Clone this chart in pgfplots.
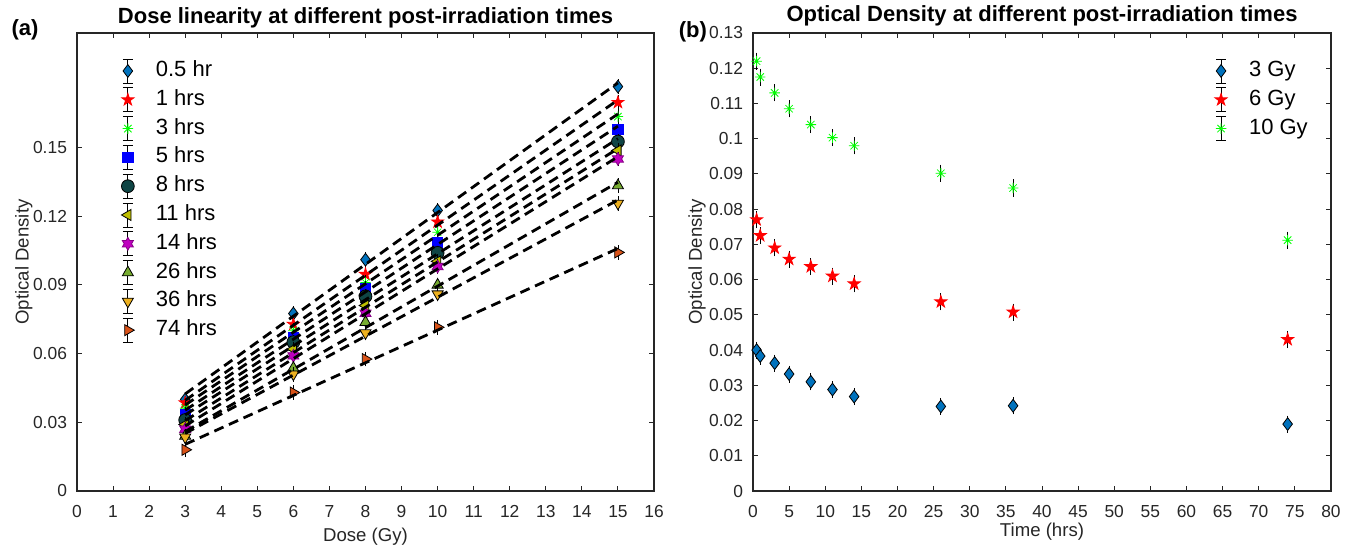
\documentclass[border=0pt]{standalone}
\usepackage{fontspec}
\setmainfont{Liberation Sans}
\usepackage{pgfplots}
\usepackage{pgfplotstable}
\pgfplotsset{compat=1.18}

% filled five- and six-pointed stars, MATLAB-style asterisk
\pgfdeclareplotmark{pent*}{%
  \pgfpathmoveto{\pgfqpointpolar{90}{\pgfplotmarksize}}%
  \pgfpathlineto{\pgfqpointpolar{126}{0.382\pgfplotmarksize}}%
  \pgfpathlineto{\pgfqpointpolar{162}{\pgfplotmarksize}}%
  \pgfpathlineto{\pgfqpointpolar{198}{0.382\pgfplotmarksize}}%
  \pgfpathlineto{\pgfqpointpolar{234}{\pgfplotmarksize}}%
  \pgfpathlineto{\pgfqpointpolar{270}{0.382\pgfplotmarksize}}%
  \pgfpathlineto{\pgfqpointpolar{306}{\pgfplotmarksize}}%
  \pgfpathlineto{\pgfqpointpolar{342}{0.382\pgfplotmarksize}}%
  \pgfpathlineto{\pgfqpointpolar{18}{\pgfplotmarksize}}%
  \pgfpathlineto{\pgfqpointpolar{54}{0.382\pgfplotmarksize}}%
  \pgfpathclose\pgfusepathqfillstroke}
\pgfdeclareplotmark{hexa*}{%
  \pgfpathmoveto{\pgfqpointpolar{90}{\pgfplotmarksize}}%
  \pgfpathlineto{\pgfqpointpolar{120}{0.577\pgfplotmarksize}}%
  \pgfpathlineto{\pgfqpointpolar{150}{\pgfplotmarksize}}%
  \pgfpathlineto{\pgfqpointpolar{180}{0.577\pgfplotmarksize}}%
  \pgfpathlineto{\pgfqpointpolar{210}{\pgfplotmarksize}}%
  \pgfpathlineto{\pgfqpointpolar{240}{0.577\pgfplotmarksize}}%
  \pgfpathlineto{\pgfqpointpolar{270}{\pgfplotmarksize}}%
  \pgfpathlineto{\pgfqpointpolar{300}{0.577\pgfplotmarksize}}%
  \pgfpathlineto{\pgfqpointpolar{330}{\pgfplotmarksize}}%
  \pgfpathlineto{\pgfqpointpolar{0}{0.577\pgfplotmarksize}}%
  \pgfpathlineto{\pgfqpointpolar{30}{\pgfplotmarksize}}%
  \pgfpathlineto{\pgfqpointpolar{60}{0.577\pgfplotmarksize}}%
  \pgfpathclose\pgfusepathqfillstroke}
\pgfdeclareplotmark{mstar}{%
  \pgfpathmoveto{\pgfqpointpolar{0}{\pgfplotmarksize}}\pgfpathlineto{\pgfqpointpolar{180}{\pgfplotmarksize}}%
  \pgfpathmoveto{\pgfqpointpolar{90}{\pgfplotmarksize}}\pgfpathlineto{\pgfqpointpolar{270}{\pgfplotmarksize}}%
  \pgfpathmoveto{\pgfqpointpolar{45}{\pgfplotmarksize}}\pgfpathlineto{\pgfqpointpolar{225}{\pgfplotmarksize}}%
  \pgfpathmoveto{\pgfqpointpolar{135}{\pgfplotmarksize}}\pgfpathlineto{\pgfqpointpolar{315}{\pgfplotmarksize}}%
  \pgfusepathqstroke}

\definecolor{mblue}{rgb}{0,0.447,0.741}
\definecolor{mteal}{rgb}{0.06,0.27,0.27}
\definecolor{molive}{rgb}{0.75,0.75,0}
\definecolor{mmag}{rgb}{0.75,0,0.75}
\definecolor{mgreen}{rgb}{0.466,0.674,0.188}
\definecolor{myellow}{rgb}{0.929,0.694,0.125}
\definecolor{morange}{rgb}{0.85,0.325,0.098}
\definecolor{axgray}{rgb}{0.15,0.15,0.15}

% optical density vs dose, one column per post-irradiation time
\pgfplotstableread{
dose t05    t1     t3     t5     t8     t11    t14    t26    t36    t74
3    0.0400 0.0385 0.0362 0.0335 0.0310 0.0290 0.0270 0.0240 0.0235 0.0180
6    0.0775 0.0728 0.0700 0.0670 0.0650 0.0620 0.0590 0.0537 0.0510 0.0430
8    0.1010 0.0946 0.0910 0.0885 0.0850 0.0810 0.0776 0.0737 0.0690 0.0576
10   0.1225 0.1175 0.1130 0.1085 0.1040 0.1003 0.0980 0.0900 0.0860 0.0715
15   0.1766 0.1697 0.1635 0.1580 0.1526 0.1487 0.1450 0.1334 0.1256 0.1042
}\dosedata

% optical density vs time for three doses
\pgfplotstableread{
t    g3     g6     g10
0.5  0.0400 0.0770 0.1220
1    0.0383 0.0725 0.1175
3    0.0363 0.0690 0.1130
5    0.0332 0.0658 0.1085
8    0.0310 0.0637 0.1040
11   0.0288 0.0610 0.1003
14   0.0268 0.0588 0.0980
26   0.0240 0.0537 0.0902
36   0.0242 0.0508 0.0860
74   0.0190 0.0430 0.0712
}\timedata

\newcommand{\fs}{\fontsize{8.7}{10}\selectfont}
\newcommand{\fl}{\fontsize{9.3}{11}\selectfont}
\newcommand{\ft}{\fontsize{11}{13}\selectfont}

\pgfplotsset{
  mat/.style={
    scale only axis, clip mode=individual,
    axis line style={axgray, line width=0.6pt},
    tick style={axgray, line width=0.5pt},
    tick align=inside, major tick length=2.5pt,
    xtick pos=both, ytick pos=both,
    /pgf/number format/assume math mode=true,
    tick label style={font=\fs, text=axgray},
    xticklabel style={yshift=-3.5pt},
    yticklabel style={xshift=-1.5pt},
    label style={font=\fl, text=axgray},
    every axis title shift=0pt,
    title style={font=\ft\bfseries, text=black, anchor=center},
    scaled ticks=false,
    legend style={draw=none, fill=none, font=\ft, text=black,
      row sep=1.9pt, nodes={inner sep=1pt, text height=8pt, text depth=2.5pt}},
    legend cell align=left,
  },
  eb/.style={error bars/y dir=both, error bars/y fixed=0.001,
    error bars/error bar style={black, line width=0.4pt},
    error bars/error mark options={black, mark size=2.5pt, line width=0.4pt}},
  pts/.style={only marks, mark size=3.2pt, line width=0.4pt,
    legend image code/.code={
      \path (0,0) (0.75cm,0);
      \draw[black, line width=0.4pt] (0.3cm,-6pt)--(0.3cm,6pt)
        (0.3cm-2.5pt,-6pt)--(0.3cm+2.5pt,-6pt)
        (0.3cm-2.5pt,6pt)--(0.3cm+2.5pt,6pt);
      \draw[##1] plot coordinates {(0.3cm,0cm)};}},
  fit/.style={black, line width=1.4pt, dash pattern=on 5pt off 3pt, forget plot},
}

\begin{document}
\begin{tikzpicture}
\path[use as bounding box] (-38.5pt,-28.5pt) rectangle (638.5pt,245.5pt);

\begin{axis}[mat,
  at={(0,0)}, anchor=south west,
  width=288.5pt, height=229pt,
  xmin=0, xmax=16, xtick={0,1,...,16},
  ymin=0, ymax=0.2, ytick={0,0.03,0.06,0.09,0.12,0.15},
  yticklabels={0,0.03,0.06,0.09,0.12,0.15},
  xlabel={Dose (Gy)}, ylabel={Optical Density},
  xlabel style={at={(axis description cs:0.5,-0.1)}, anchor=center},
  ylabel style={at={(axis description cs:-0.092,0.5)}, anchor=center},
  title={Dose linearity at different post-irradiation times},
  title style={at={(axis description cs:0.5,1.033)}},
  legend style={at={(axis description cs:0.0468,0.954)}, anchor=north west},
]
\addplot[pts, eb, mark=diamond*, mark options={fill=mblue, draw=black}] table[x=dose, y=t05] {\dosedata};
\addlegendentry{0.5 hr}
\addplot[pts, eb, mark=pent*, mark options={fill=red, draw=red}] table[x=dose, y=t1] {\dosedata};
\addlegendentry{1 hrs}
\addplot[pts, eb, mark=mstar, mark size=2.6pt, mark options={draw=green}] table[x=dose, y=t3] {\dosedata};
\addlegendentry{3 hrs}
\addplot[pts, eb, mark=square*, mark size=2.6pt, mark options={fill=blue, draw=blue}] table[x=dose, y=t5] {\dosedata};
\addlegendentry{5 hrs}
\addplot[pts, eb, mark=*, mark options={fill=mteal, draw=black}] table[x=dose, y=t8] {\dosedata};
\addlegendentry{8 hrs}
\addplot[pts, eb, mark=triangle*, mark options={fill=molive, draw=black, rotate=90}] table[x=dose, y=t11] {\dosedata};
\addlegendentry{11 hrs}
\addplot[pts, eb, mark=hexa*, mark options={fill=mmag, draw=mmag!70!black}] table[x=dose, y=t14] {\dosedata};
\addlegendentry{14 hrs}
\addplot[pts, eb, mark=triangle*, mark options={fill=mgreen, draw=black}] table[x=dose, y=t26] {\dosedata};
\addlegendentry{26 hrs}
\addplot[pts, eb, mark=triangle*, mark options={fill=myellow, draw=black, rotate=180}] table[x=dose, y=t36] {\dosedata};
\addlegendentry{36 hrs}
\addplot[pts, eb, mark=triangle*, mark options={fill=morange, draw=black, rotate=270}] table[x=dose, y=t74] {\dosedata};
\addlegendentry{74 hrs}

\addplot[fit] table[x=dose, y={create col/linear regression={y=t05}}] {\dosedata};
\addplot[fit] table[x=dose, y={create col/linear regression={y=t1}}] {\dosedata};
\addplot[fit] table[x=dose, y={create col/linear regression={y=t3}}] {\dosedata};
\addplot[fit] table[x=dose, y={create col/linear regression={y=t5}}] {\dosedata};
\addplot[fit] table[x=dose, y={create col/linear regression={y=t8}}] {\dosedata};
\addplot[fit] table[x=dose, y={create col/linear regression={y=t11}}] {\dosedata};
\addplot[fit] table[x=dose, y={create col/linear regression={y=t14}}] {\dosedata};
\addplot[fit] table[x=dose, y={create col/linear regression={y=t26}}] {\dosedata};
\addplot[fit] table[x=dose, y={create col/linear regression={y=t36}}] {\dosedata};
\addplot[fit] table[x=dose, y={create col/linear regression={y=t74}}] {\dosedata};

\node[font=\ft\bfseries] at (axis description cs:-0.090,1.006) {(a)};
\end{axis}

\begin{axis}[mat,
  at={(338pt,0)}, anchor=south west,
  width=289pt, height=229pt,
  xmin=0, xmax=80, xtick={0,5,...,80},
  ymin=0, ymax=0.13,
  ytick={0,0.01,0.02,0.03,0.04,0.05,0.06,0.07,0.08,0.09,0.1,0.11,0.12,0.13},
  yticklabels={0,0.01,0.02,0.03,0.04,0.05,0.06,0.07,0.08,0.09,0.1,0.11,0.12,0.13},
  xlabel={Time (hrs)}, ylabel={Optical Density},
  xlabel style={at={(axis description cs:0.5,-0.089)}, anchor=center},
  ylabel style={at={(axis description cs:-0.097,0.5)}, anchor=center},
  title={Optical Density at different post-irradiation times},
  title style={at={(axis description cs:0.5,1.037)}},
  legend style={at={(axis description cs:0.7685,0.954)}, anchor=north west},
]
\addplot[pts, eb, mark=diamond*, mark options={fill=mblue, draw=black}] table[x=t, y=g3] {\timedata};
\addlegendentry{3 Gy}
\addplot[pts, eb, mark=pent*, mark options={fill=red, draw=red}] table[x=t, y=g6] {\timedata};
\addlegendentry{6 Gy}
\addplot[pts, eb, mark=mstar, mark size=2.6pt, mark options={draw=green}] table[x=t, y=g10] {\timedata};
\addlegendentry{10 Gy}
\node[font=\ft\bfseries] at (axis description cs:-0.104,1.002) {(b)};
\end{axis}
\end{tikzpicture}
\end{document}
